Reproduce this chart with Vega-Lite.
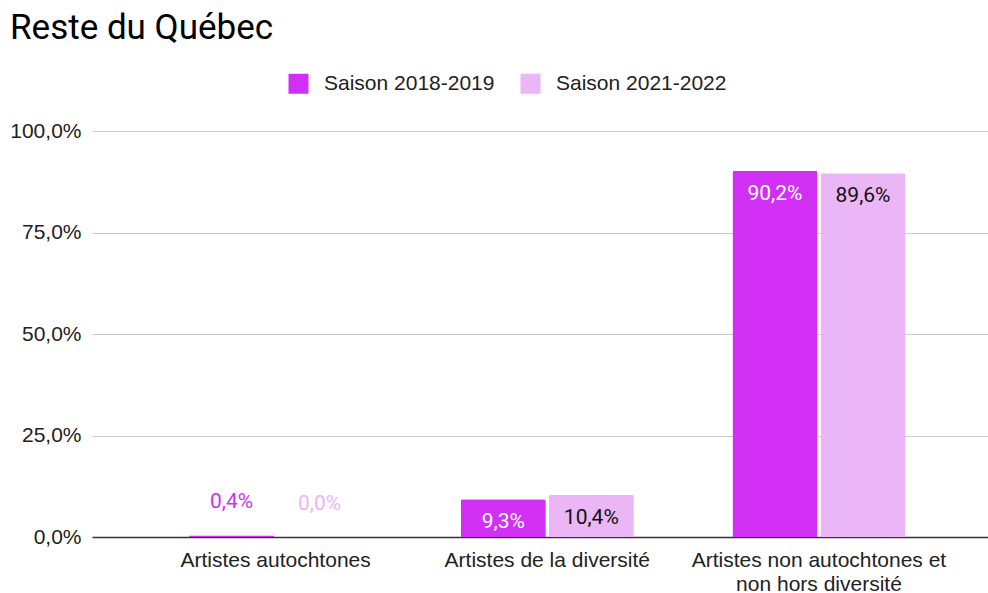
{
  "$schema": "https://vega.github.io/schema/vega-lite/v6.json",
  "width": 896,
  "height": 406,
  "autosize": {"type": "none"},
  "padding": {"left": 92, "top": 131, "right": 0, "bottom": 56},
  "background": "white",
  "config": {
    "locale": {"number": {"decimal": ",", "thousands": " ", "grouping": [3], "currency": ["", " €"]}},
    "view": {"stroke": null},
    "font": "Liberation Sans"
  },
  "title": {
    "text": "Reste du Québec",
    "anchor": "start",
    "frame": "group",
    "font": "Roboto",
    "fontSize": 35,
    "fontWeight": "normal",
    "color": "#000000",
    "dx": -82,
    "offset": -1,
    "baseline": "alphabetic"
  },
  "data": {
    "values": [
      {"categorie": "Artistes autochtones", "saison": "Saison 2018-2019", "valeur": 0.004},
      {"categorie": "Artistes autochtones", "saison": "Saison 2021-2022", "valeur": 0.0},
      {"categorie": "Artistes de la diversité", "saison": "Saison 2018-2019", "valeur": 0.093},
      {"categorie": "Artistes de la diversité", "saison": "Saison 2021-2022", "valeur": 0.104},
      {"categorie": "Artistes non autochtones et non hors diversité", "saison": "Saison 2018-2019", "valeur": 0.902},
      {"categorie": "Artistes non autochtones et non hors diversité", "saison": "Saison 2021-2022", "valeur": 0.896}
    ]
  },
  "encoding": {
    "x": {
      "field": "categorie",
      "type": "nominal",
      "sort": null,
      "scale": {"paddingInner": 0, "paddingOuter": 0.149, "align": 0.59},
      "axis": {
        "title": null,
        "labelAngle": 0,
        "labelFont": "Liberation Sans",
        "labelFontSize": 21,
        "labelColor": "#222222",
        "labelPadding": 12,
        "labelLimit": 400,
        "ticks": false,
        "domainColor": "#333333",
        "domainWidth": 1.5,
        "labelExpr": "datum.label == 'Artistes non autochtones et non hors diversité' ? ['Artistes non autochtones et', 'non hors diversité'] : datum.label",
        "labelLineHeight": 24
      }
    },
    "xOffset": {
      "field": "saison",
      "type": "nominal",
      "scale": {"paddingInner": 0.034, "paddingOuter": 0.56}
    },
    "y": {
      "field": "valeur",
      "type": "quantitative",
      "scale": {"domain": [0, 1]},
      "axis": {
        "title": null,
        "format": ".1%",
        "values": [0, 0.25, 0.5, 0.75, 1],
        "domain": false,
        "ticks": false,
        "labelFont": "Liberation Sans",
        "labelFontSize": 21,
        "labelColor": "#222222",
        "labelPadding": 11,
        "gridColor": "#cccccc",
        "gridWidth": 1
      }
    }
  },
  "layer": [
    {
      "mark": {"type": "bar", "cornerRadiusTopLeft": 2, "cornerRadiusTopRight": 2},
      "encoding": {
        "color": {
          "field": "saison",
          "type": "nominal",
          "scale": {"domain": ["Saison 2018-2019", "Saison 2021-2022"], "range": ["#d22ff4", "#ebb6f6"]},
          "legend": {
            "title": null,
            "orient": "none",
            "direction": "horizontal",
            "legendX": 196,
            "legendY": -58,
            "symbolType": "square",
            "symbolSize": 400,
            "symbolStrokeWidth": 0,
            "labelFont": "Liberation Sans",
            "labelFontSize": 21,
            "labelColor": "#222222",
            "labelOffset": 15,
            "labelLimit": 400,
            "columnPadding": 25
          }
        }
      }
    },
    {
      "transform": [{"filter": "datum.valeur >= 0.05"}],
      "mark": {"type": "text", "font": "Roboto", "fontSize": 21, "baseline": "middle", "dy": 23},
      "encoding": {
        "text": {"field": "valeur", "type": "quantitative", "format": ".1%"},
        "color": {
          "field": "saison",
          "type": "nominal",
          "scale": {"domain": ["Saison 2018-2019", "Saison 2021-2022"], "range": ["#ffffff", "#111111"]},
          "legend": null
        }
      }
    },
    {
      "transform": [{"filter": "datum.valeur < 0.05"}],
      "mark": {"type": "text", "font": "Roboto", "fontSize": 21, "baseline": "middle", "dy": -33},
      "encoding": {
        "text": {"field": "valeur", "type": "quantitative", "format": ".1%"},
        "color": {
          "field": "saison",
          "type": "nominal",
          "scale": {"domain": ["Saison 2018-2019", "Saison 2021-2022"], "range": ["#d22ff4", "#ebb6f6"]},
          "legend": null
        }
      }
    }
  ],
  "resolve": {"scale": {"color": "independent"}}
}
